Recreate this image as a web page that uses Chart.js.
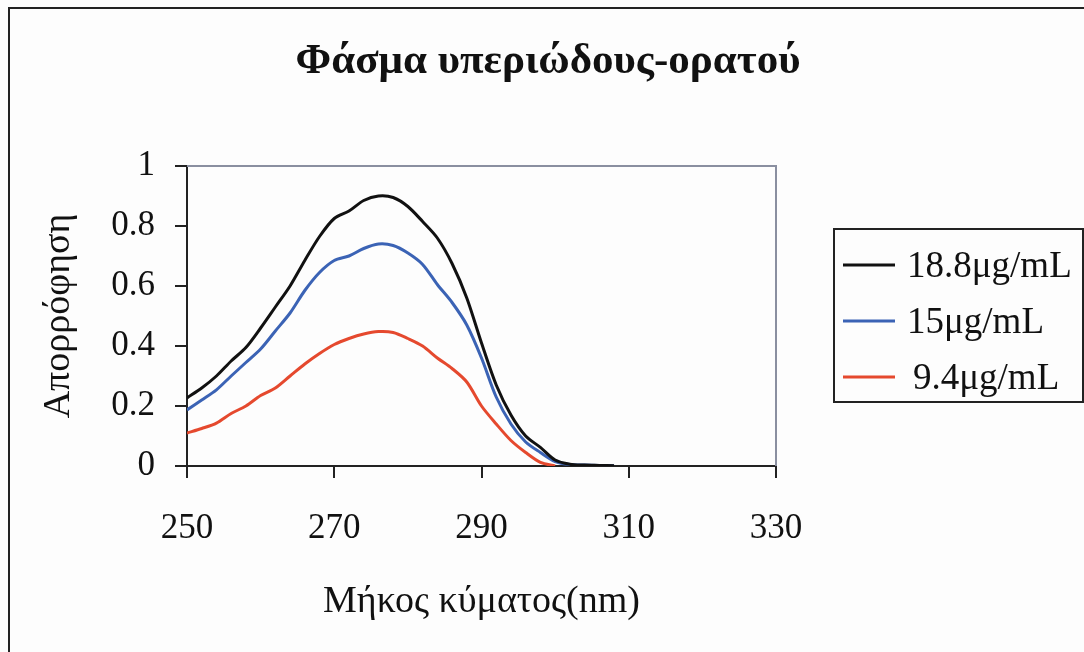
<!DOCTYPE html>
<html>
<head>
<meta charset="utf-8">
<script src="https://cdn.jsdelivr.net/npm/chart.js@4.4.0/dist/chart.umd.min.js"></script>
<style>
  html, body { margin: 0; padding: 0; background: #fdfdfd; }
  #wrap { position: relative; width: 1084px; height: 652px; }
</style>
</head>
<body>
<div id="wrap"><canvas id="chart" width="1084" height="652"></canvas></div>
<script>
// wavelength (nm)
const wavelengths = [250, 252, 254, 256, 258, 260, 262, 264, 266, 268, 270, 272, 274, 276, 278,
  280, 282, 284, 286, 288, 290, 292, 294, 296, 298, 300, 302, 304, 306, 308];
// absorbance per concentration
const abs188 = [0.227, 0.26, 0.30, 0.35, 0.395, 0.46, 0.53, 0.60, 0.685, 0.765, 0.825, 0.85, 0.885, 0.90, 0.895,
  0.865, 0.815, 0.76, 0.675, 0.56, 0.41, 0.27, 0.17, 0.10, 0.062, 0.02, 0.006, 0.003, 0.002, 0.001];
const abs150 = [0.187, 0.22, 0.254, 0.30, 0.345, 0.39, 0.45, 0.51, 0.585, 0.645, 0.685, 0.70, 0.725, 0.74, 0.735,
  0.71, 0.672, 0.605, 0.545, 0.47, 0.36, 0.23, 0.14, 0.08, 0.045, 0.015, 0.005, 0.003, 0.002, 0.001];
const abs94 = [0.11, 0.125, 0.143, 0.175, 0.20, 0.235, 0.26, 0.30, 0.34, 0.375, 0.405, 0.425, 0.44, 0.448, 0.445,
  0.425, 0.40, 0.36, 0.325, 0.28, 0.20, 0.14, 0.085, 0.045, 0.012, 0.0];
const seriesLabels = ['18.8μg/mL', '15μg/mL', '9.4μg/mL'];
const seriesColors = ['#111111', '#3b63b5', '#e5492e'];
const xTicks = [250, 270, 290, 310, 330];
const yTicks = [0, 0.2, 0.4, 0.6, 0.8, 1];

const serif = '"Liberation Serif", "DejaVu Serif", serif';

function points(values) {
  return values.map((v, i) => ({ x: wavelengths[i], y: v }));
}

const frameAndLegend = {
  id: 'frameAndLegend',
  beforeDraw(chart) {
    const ctx = chart.ctx;
    ctx.save();
    // outer frame (left and top edges)
    ctx.strokeStyle = '#222';
    ctx.lineWidth = 2;
    ctx.beginPath();
    ctx.moveTo(9, 652);
    ctx.lineTo(9, 8);
    ctx.lineTo(1084, 8);
    ctx.stroke();
    ctx.restore();
  },
  afterDraw(chart) {
    const ctx = chart.ctx;
    const a = chart.chartArea;
    ctx.save();
    // plot area top/right border
    ctx.strokeStyle = '#8a8fa0';
    ctx.lineWidth = 2;
    ctx.beginPath();
    ctx.moveTo(a.left, a.top);
    ctx.lineTo(a.right, a.top);
    ctx.lineTo(a.right, a.bottom);
    ctx.stroke();

    // title
    ctx.fillStyle = '#111';
    ctx.font = 'bold 43px ' + serif;
    ctx.textAlign = 'center';
    ctx.textBaseline = 'middle';
    ctx.fillText('Φάσμα υπεριώδους-ορατού', 548, 62);

    // legend
    ctx.strokeStyle = '#222';
    ctx.lineWidth = 2;
    ctx.strokeRect(834, 229, 249, 173);
    ctx.font = '37px ' + serif;
    ctx.textAlign = 'left';
    const rows = [265, 321, 377];
    const textX = [907, 907, 913];
    chart.data.datasets.forEach((ds, i) => {
      ctx.strokeStyle = ds.borderColor;
      ctx.lineWidth = 3;
      ctx.beginPath();
      ctx.moveTo(843, rows[i]);
      ctx.lineTo(895, rows[i]);
      ctx.stroke();
      ctx.fillStyle = '#111';
      ctx.fillText(ds.label, textX[i], rows[i] + 2);
    });
    ctx.restore();
  }
};

new Chart(document.getElementById('chart'), {
  type: 'line',
  data: {
    datasets: [
      { label: seriesLabels[0], data: points(abs188), borderColor: seriesColors[0] },
      { label: seriesLabels[1], data: points(abs150), borderColor: seriesColors[1] },
      { label: seriesLabels[2], data: points(abs94), borderColor: seriesColors[2] }
    ]
  },
  options: {
    responsive: false,
    animation: false,
    layout: { padding: { left: 10, top: 166, right: 308, bottom: 0 } },
    elements: {
      point: { radius: 0 },
      line: { borderWidth: 3, tension: 0.3 }
    },
    plugins: {
      legend: { display: false },
      title: { display: false },
      tooltip: { enabled: false }
    },
    scales: {
      x: {
        type: 'linear',
        min: 250,
        max: 330,
        afterFit(scale) { scale.height = 186; },
        afterBuildTicks(scale) { scale.ticks = xTicks.map(v => ({ value: v })); },
        grid: { drawOnChartArea: false, drawTicks: true, tickLength: 12, color: '#222', lineWidth: 2 },
        border: { color: '#222', width: 2 },
        ticks: { color: '#111', font: { family: serif, size: 35 }, padding: 30, maxRotation: 0 },
        title: { display: true, text: 'Μήκος κύματος(nm)', color: '#111', font: { family: serif, size: 38 }, padding: 27 }
      },
      y: {
        min: 0,
        max: 1,
        afterFit(scale) { scale.width = 177; },
        afterBuildTicks(scale) { scale.ticks = yTicks.map(v => ({ value: v })); },
        grid: { drawOnChartArea: false, drawTicks: true, tickLength: 12, color: '#222', lineWidth: 2 },
        border: { color: '#222', width: 2 },
        ticks: { color: '#111', font: { family: serif, size: 35 }, padding: 20, callback: v => String(v) },
        title: { display: true, text: 'Απορρόφηση', color: '#111', font: { family: serif, size: 38 }, padding: 26 }
      }
    }
  },
  plugins: [frameAndLegend]
});
</script>
</body>
</html>
